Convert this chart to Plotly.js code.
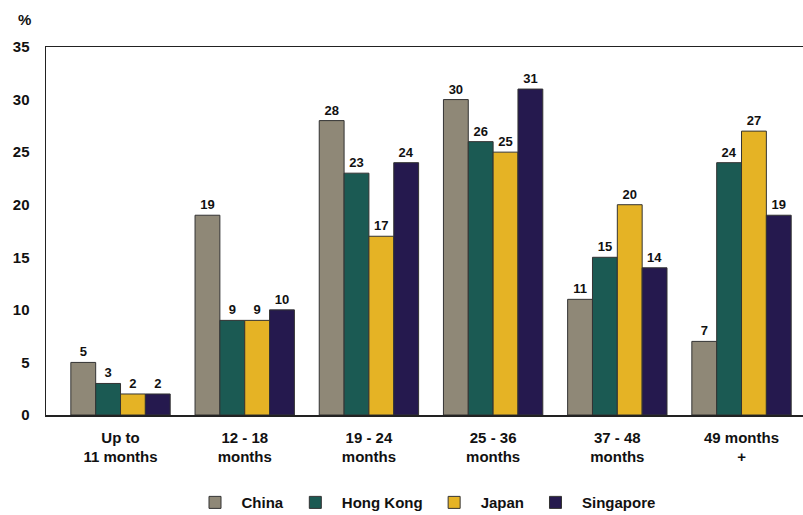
<!DOCTYPE html>
<html><head><meta charset="utf-8">
<script src="https://cdn.plot.ly/plotly-3.0.1.min.js"></script>
<style>body{margin:0;padding:0;background:#fff}#chart{width:803px;height:515px}</style>
</head><body><div id="chart"></div>
<script>
const categories = ["Up to<br>11 months", "12 - 18<br>months", "19 - 24<br>months", "25 - 36<br>months", "37 - 48<br>months", "49 months<br>+"];
const seriesNames = ["China", "Hong Kong", "Japan", "Singapore"];
const china = [5, 19, 28, 30, 11, 7];
const hongKong = [3, 9, 23, 26, 15, 24];
const japan = [2, 9, 17, 25, 20, 27];
const singapore = [2, 10, 24, 31, 14, 19];
const yTicks = [0, 5, 10, 15, 20, 25, 30, 35];

const colors = ["#8f8877", "#1b5a53", "#e5b325", "#25194e"];
const values = [china, hongKong, japan, singapore];
const xIdx = categories.map((c, i) => i);

const traces = values.map((v, k) => ({
  type: 'bar',
  name: seriesNames[k],
  x: xIdx,
  y: v,
  text: v.map(String),
  textposition: 'outside',
  cliponaxis: false,
  textfont: {family: '"Liberation Sans Narrow", "Liberation Sans", Arial, sans-serif', size: 13, color: '#111', weight: 'bold'},
  marker: {color: colors[k], line: {color: '#333', width: 1}},
  hoverinfo: 'none'
}));

const layout = {
  width: 803, height: 515,
  margin: {l: 46, r: 0, t: 47, b: 100},
  paper_bgcolor: '#fff', plot_bgcolor: '#fff',
  barmode: 'group', bargap: 0.2, bargroupgap: 0,
  font: {family: '"Liberation Sans", Arial, sans-serif', color: '#111'},
  xaxis: {
    range: [-0.6, 5.495],
    tickvals: xIdx, ticktext: categories,
    showline: true, mirror: true, linecolor: '#222', linewidth: 1.5,
    showgrid: false, zeroline: false, ticks: '',
    ticklabelstandoff: 8,
    automargin: false,
    tickfont: {size: 15, weight: 'bold', color: '#111'}
  },
  yaxis: {
    range: [0, 35], tickvals: yTicks,
    showline: true, linecolor: '#222', linewidth: 1.5,
    showgrid: false, zeroline: false, ticks: '',
    ticklabelstandoff: 12,
    automargin: false,
    tickfont: {size: 15, weight: 'bold', color: '#111'}
  },
  showlegend: true,
  legend: {orientation: 'h', x: 0.5, xanchor: 'center', xref: 'paper', yref: 'container', y: 0.024, yanchor: 'middle',
           font: {size: 15, weight: 'bold', color: '#111'}, itemwidth: 43, traceorder: 'normal'},
  annotations: [{text: '%', xref: 'paper', yref: 'paper', x: 0, y: 1, xshift: -30, yshift: 38,
                 showarrow: false, font: {size: 15, weight: 'bold', color: '#111'}}]
};

Plotly.newPlot('chart', traces, layout, {displayModeBar: false, staticPlot: true});
</script></body></html>
